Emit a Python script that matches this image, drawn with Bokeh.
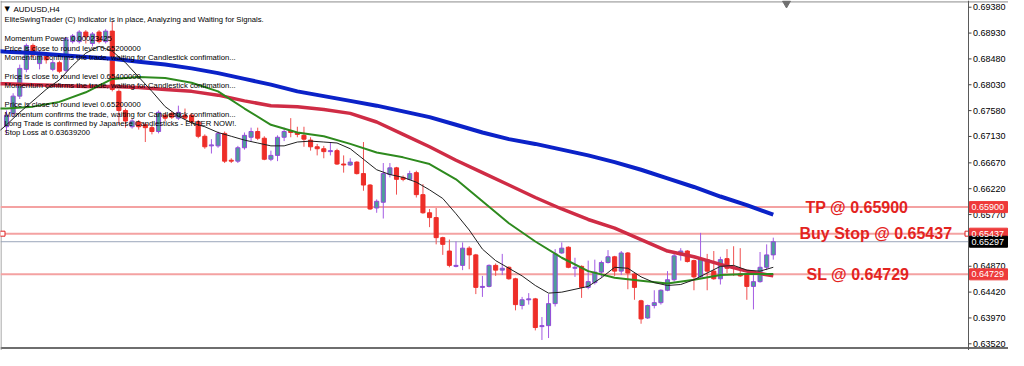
from bokeh.plotting import figure
from bokeh.models import Range1d, Label, ColumnDataSource
from bokeh.core.properties import value
from bokeh.embed import file_html
from bokeh.resources import INLINE

# ---------------- data (AUDUSD, H4) ----------------
opens = [0.67299, 0.67532, 0.67832, 0.68298, 0.68714, 0.68398, 0.68531, 0.68298, 0.68415, 0.68282,
         0.68781, 0.68781, 0.68948, 0.68748, 0.68948, 0.68781, 0.68964, 0.67915, 0.67582, 0.67299,
         0.67382, 0.67333, 0.67283, 0.67216, 0.67499, 0.67532, 0.67449, 0.67499, 0.67499, 0.67382,
         0.67133, 0.66966, 0.66966, 0.67183, 0.66716, 0.66700, 0.66933, 0.67116, 0.67216, 0.67099,
         0.66733, 0.66800, 0.67116, 0.67233, 0.67199, 0.67149, 0.67066, 0.66950, 0.66916, 0.66866,
         0.66883, 0.66650, 0.66633, 0.66683, 0.66483, 0.66284, 0.65884, 0.65984, 0.66467, 0.66583,
         0.66417, 0.66383, 0.66500, 0.66117, 0.65801, 0.65717, 0.65368, 0.65135, 0.64868, 0.64885,
         0.65185, 0.65068, 0.64502, 0.64519, 0.64885, 0.64802, 0.64852, 0.64652, 0.64186, 0.64286,
         0.64302, 0.63819, 0.63836, 0.64219, 0.65101, 0.65201, 0.64835, 0.64868, 0.64502, 0.64585,
         0.64768, 0.64935, 0.65035, 0.64785, 0.65101, 0.64735, 0.64269, 0.63969, 0.64186, 0.64236,
         0.64452, 0.64635, 0.65068, 0.65135, 0.64968, 0.64685, 0.64985, 0.64785, 0.64652, 0.65002,
         0.64852, 0.64735, 0.64718, 0.64519, 0.64602, 0.64852, 0.65068]
highs = [0.67582, 0.67882, 0.68381, 0.68748, 0.68748, 0.68631, 0.68581, 0.68465, 0.68448, 0.68864,
         0.68914, 0.68981, 0.68981, 0.68948, 0.68981, 0.68998, 0.69131, 0.67949, 0.67616, 0.67432,
         0.67416, 0.67366, 0.67316, 0.67582, 0.67532, 0.67566, 0.67666, 0.67616, 0.67532, 0.67416,
         0.67166, 0.67083, 0.67216, 0.67216, 0.66750, 0.66966, 0.67199, 0.67283, 0.67283, 0.67133,
         0.66883, 0.67149, 0.67283, 0.67449, 0.67299, 0.67299, 0.67116, 0.67000, 0.66966, 0.67016,
         0.66916, 0.66800, 0.66750, 0.66700, 0.67033, 0.66300, 0.66034, 0.66667, 0.66667, 0.66600,
         0.66450, 0.66533, 0.66533, 0.66300, 0.65867, 0.65884, 0.65384, 0.65335, 0.65301, 0.65285,
         0.65218, 0.65085, 0.64702, 0.64902, 0.64918, 0.65085, 0.64868, 0.64669, 0.64336, 0.64402,
         0.64319, 0.63986, 0.64385, 0.65168, 0.65285, 0.65218, 0.65018, 0.64885, 0.64968, 0.64985,
         0.64968, 0.65151, 0.65051, 0.65135, 0.65118, 0.64752, 0.64286, 0.64202, 0.64452, 0.64469,
         0.64785, 0.65135, 0.65185, 0.65151, 0.64985, 0.65451, 0.65085, 0.65135, 0.65035, 0.65168,
         0.65218, 0.65185, 0.64735, 0.64718, 0.65118, 0.65251, 0.65368]
lows = [0.67166, 0.67466, 0.67782, 0.68248, 0.68498, 0.68298, 0.68398, 0.68265, 0.68232, 0.68248,
        0.68748, 0.68748, 0.68748, 0.68698, 0.68748, 0.68748, 0.67915, 0.67333, 0.67283, 0.67266,
        0.67249, 0.67033, 0.67166, 0.67183, 0.67399, 0.67432, 0.67416, 0.67416, 0.67349, 0.67099,
        0.66916, 0.66833, 0.66933, 0.66667, 0.66667, 0.66667, 0.66900, 0.67049, 0.67066, 0.66716,
        0.66700, 0.66700, 0.67049, 0.67116, 0.67116, 0.66950, 0.66883, 0.66800, 0.66750, 0.66800,
        0.66633, 0.66500, 0.66617, 0.66467, 0.66184, 0.65851, 0.65801, 0.65701, 0.66417, 0.66117,
        0.66350, 0.66367, 0.66067, 0.65784, 0.65551, 0.65251, 0.65068, 0.64852, 0.64852, 0.64802,
        0.64818, 0.64385, 0.64336, 0.64502, 0.64702, 0.64718, 0.64635, 0.64102, 0.64119, 0.64202,
        0.63753, 0.63586, 0.63620, 0.64169, 0.65085, 0.64835, 0.64685, 0.64319, 0.64469, 0.64552,
        0.64669, 0.64918, 0.64702, 0.64718, 0.64469, 0.64286, 0.63869, 0.63953, 0.64136, 0.64202,
        0.64435, 0.64602, 0.64968, 0.64935, 0.64452, 0.64669, 0.64452, 0.64635, 0.64552, 0.64752,
        0.64702, 0.64685, 0.64286, 0.64119, 0.64585, 0.64802, 0.64985]
closes = [0.67499, 0.67832, 0.68315, 0.68714, 0.68548, 0.68565, 0.68465, 0.68415, 0.68265, 0.68831,
          0.68881, 0.68948, 0.68864, 0.68914, 0.68781, 0.68964, 0.67949, 0.67582, 0.67399, 0.67399,
          0.67299, 0.67283, 0.67216, 0.67549, 0.67449, 0.67466, 0.67549, 0.67449, 0.67382, 0.67133,
          0.66950, 0.66983, 0.67183, 0.66700, 0.66700, 0.66933, 0.67149, 0.67216, 0.67099, 0.66733,
          0.66800, 0.67116, 0.67216, 0.67199, 0.67166, 0.67083, 0.66950, 0.66916, 0.66866, 0.66883,
          0.66650, 0.66633, 0.66683, 0.66483, 0.66284, 0.65867, 0.66001, 0.66483, 0.66583, 0.66383,
          0.66383, 0.66483, 0.66117, 0.65801, 0.65717, 0.65368, 0.65251, 0.64885, 0.64885, 0.65185,
          0.65068, 0.64502, 0.64519, 0.64885, 0.64802, 0.64835, 0.64652, 0.64202, 0.64286, 0.64302,
          0.63803, 0.63836, 0.64219, 0.65085, 0.65185, 0.64852, 0.64852, 0.64502, 0.64602, 0.64768,
          0.64935, 0.65035, 0.64785, 0.65101, 0.64752, 0.64502, 0.63953, 0.64186, 0.64236, 0.64452,
          0.64635, 0.65051, 0.65135, 0.64952, 0.64685, 0.64985, 0.64785, 0.64652, 0.64985, 0.64835,
          0.64835, 0.64702, 0.64519, 0.64602, 0.64852, 0.65068, 0.65297]

# moving averages read at every 4th bar (slow ones) and every 2nd bar (fast one)
ma_idx = [-1] + list(range(0, 117, 4))
ma_blue = [0.68615, 0.68606, 0.68581, 0.68548, 0.68515, 0.68481, 0.68431, 0.68381, 0.68315, 0.68232,
           0.68132, 0.68032, 0.67915, 0.67832, 0.67749, 0.67666, 0.67566, 0.67466, 0.67333, 0.67199,
           0.67083, 0.67000, 0.66900, 0.66800, 0.66683, 0.66550, 0.66400, 0.66250, 0.66084, 0.65934,
           0.65767]
ma_red = [0.68048, 0.68048, 0.68032, 0.68015, 0.67999, 0.67999, 0.67982, 0.67949, 0.67915, 0.67849,
          0.67749, 0.67666, 0.67649, 0.67599, 0.67532, 0.67382, 0.67166, 0.66950, 0.66716, 0.66500,
          0.66284, 0.66067, 0.65867, 0.65684, 0.65534, 0.65335, 0.65135, 0.65035, 0.64902, 0.64785,
          0.64702]
ma_green = [0.67616, 0.67616, 0.67649, 0.67732, 0.67899, 0.68132, 0.68165, 0.68148, 0.68065, 0.67915,
            0.67616, 0.67333, 0.67199, 0.67133, 0.67000, 0.66850, 0.66766, 0.66650, 0.66383, 0.66001,
            0.65618, 0.65301, 0.65018, 0.64785, 0.64669, 0.64619, 0.64569, 0.64635, 0.64718, 0.64735,
            0.64735]
fast_idx = [-1] + list(range(0, 117, 2))
ma_black = [0.67233, 0.67333, 0.67549, 0.67749, 0.67949, 0.68115, 0.68365, 0.68581, 0.68698, 0.68615,
            0.68415, 0.68165, 0.67915, 0.67649, 0.67482, 0.67366, 0.67299, 0.67199, 0.67133, 0.67066,
            0.67016, 0.66966, 0.66966, 0.67033, 0.67049, 0.67033, 0.67016, 0.66916, 0.66733, 0.66550,
            0.66467, 0.66417, 0.66334, 0.66200, 0.66050, 0.65784, 0.65501, 0.65168, 0.64968, 0.64835,
            0.64702, 0.64535, 0.64402, 0.64419, 0.64469, 0.64519, 0.64669, 0.64852, 0.64835, 0.64685,
            0.64585, 0.64535, 0.64552, 0.64635, 0.64752, 0.64868, 0.64885, 0.64802, 0.64785, 0.64852]

price_ticks = [0.69380, 0.68930, 0.68480, 0.68030, 0.67580, 0.67130, 0.66670,
               0.66220, 0.65770, 0.64870, 0.64420, 0.63970, 0.63520]
tick_labels = ["0.69380", "0.68930", "0.68480", "0.68030", "0.67580", "0.67130", "0.66670",
               "0.66220", "0.65770", "0.64870", "0.64420", "0.63970", "0.63520"]
tp_level = 0.65900
buy_stop_level = 0.65437
bid_level = 0.65297
sl_level = 0.64729
box_levels = [tp_level, buy_stop_level, bid_level, sl_level]
box_labels = ["0.65900", "0.65437", "0.65297", "0.64729"]
box_colors = ["#EE3A3A", "#EE3A3A", "#000000", "#EE3A3A"]

symbol_title = "AUDUSD,H4"
info_lines = [
    "EliteSwingTrader (C) Indicator is in place, Analyzing and Waiting for Signals.",
    "",
    "Momentum Power: 0.00023425",
    "Price is close to round level 0.65200000",
    "Momentum confirms the trade, waiting for Candlestick confimation...",
    "",
    "Price is close to round level 0.65400000",
    "Momentum confirms the trade, waiting for Candlestick confimation...",
    "",
    "Price is close to round level 0.65200000",
    "Momentum confirms the trade, waiting for Candlestick confimation...",
    "Long Trade is confirmed by Japanese Candlesticks - ENTER NOW!.",
    "Stop Loss at 0.63639200",
]

# ---------------- layout helpers ----------------
W, H = 1008, 350
PX_PER_BAR = 6.61
X0 = -0.91
def ref_x(px):          # reference pixel column -> bar index
    return X0 + px / PX_PER_BAR
def ref_y(py):          # reference pixel row -> price
    return 0.69497 - 0.0001665 * py
def dx(px):             # pixel distance -> bar units
    return px / PX_PER_BAR

N = len(opens)
idx = list(range(N))
is_up = [c >= o for o, c in zip(opens, closes)]

def subset(up):
    sel = [i for i in idx if is_up[i] == up]
    return ColumnDataSource(dict(
        x=sel,
        top=[max(opens[i], closes[i]) for i in sel],
        bottom=[min(opens[i], closes[i]) for i in sel],
        high=[highs[i] for i in sel],
        low=[lows[i] for i in sel],
    ))

src_up = subset(True)
src_dn = subset(False)

x_end = X0 + W / PX_PER_BAR
y_lo, y_hi = ref_y(366), ref_y(0)
p = figure(width=W, height=H,
           x_range=Range1d(X0, x_end), y_range=Range1d(y_lo, y_hi),
           output_backend="svg", toolbar_location=None,
           x_axis_location=None, y_axis_location=None,
           min_border=0)
p.grid.visible = False
p.background_fill_color = "white"
p.border_fill_color = "white"
p.outline_line_color = None

axis_x = ref_x(968)

# chart border
p.segment(x0=[X0, X0, X0 + dx(0.5)], y0=[ref_y(1.5), ref_y(363.5), y_lo],
          x1=[x_end, x_end, X0 + dx(0.5)], y1=[ref_y(1.5), ref_y(363.5), y_hi],
          line_color=["#8C8C8C", "#6E6E6E", "#8C8C8C"], line_width=[1, 2, 1])

# horizontal level lines (stop at the price scale)
p.segment(x0=[X0] * 3, y0=[tp_level, buy_stop_level, sl_level],
          x1=[axis_x] * 3, y1=[tp_level, buy_stop_level, sl_level],
          line_color="#F4A2A2", line_width=2)
p.segment(x0=[X0], y0=[bid_level], x1=[axis_x], y1=[bid_level],
          line_color="#9AA6BA", line_width=1)

# candles
p.segment(x0="x", y0="low", x1="x", y1="high", source=src_dn, line_color="#F05050", line_width=1)
p.segment(x0="x", y0="low", x1="x", y1="high", source=src_up, line_color="#A45BE3", line_width=1)
p.vbar(x="x", top="top", bottom="bottom", width=0.62, source=src_dn,
       fill_color="#EE2E28", line_color="#EE2E28", line_width=1)
p.vbar(x="x", top="top", bottom="bottom", width=0.62, source=src_up,
       fill_color="#4E9E9A", line_color="#9448DA", line_width=1)

# moving averages
p.line(ma_idx, ma_blue, line_color="#0B22C8", line_width=4)
p.line(ma_idx, ma_red, line_color="#CF2C45", line_width=3.5)
p.line(ma_idx, ma_green, line_color="#2E8A1E", line_width=2)
p.line(fast_idx, ma_black, line_color="#202020", line_width=1)

# order markers
p.scatter([ref_x(2), axis_x - dx(1)], [buy_stop_level, buy_stop_level], marker="square", size=5,
          fill_color="white", line_color="#E02020", line_width=1)
p.scatter([ref_x(786)], [ref_y(3)], marker="inverted_triangle", size=8,
          fill_color="#707070", line_color="#707070")

# price scale (axis line, ticks, labels)
p.segment(x0=[axis_x], y0=[y_lo], x1=[axis_x], y1=[y_hi], line_color="#5A5A5A", line_width=1)
p.segment(x0=[axis_x] * len(price_ticks), y0=price_ticks,
          x1=[axis_x + dx(3)] * len(price_ticks), y1=price_ticks,
          line_color="#404040", line_width=1)
p.text(x=[axis_x + dx(4.5)] * len(price_ticks), y=price_ticks, text=tick_labels,
       text_font=value("Liberation Sans"), text_font_size="9px", text_color="#000000",
       text_baseline="middle", text_align="left")

# price boxes on the scale
p.rect(x=[axis_x + dx(20)] * 4, y=box_levels, width=38, height=11,
       width_units="screen", height_units="screen",
       fill_color=box_colors, line_color=box_colors)
p.text(x=[axis_x + dx(3)] * 4, y=box_levels, text=box_labels,
       text_font=value("Liberation Sans"), text_font_size="9px", text_color="white",
       text_baseline="middle", text_align="left")

# trade level captions
for txt, lvl, px in (("TP @ 0.65900", tp_level, 805),
                     ("Buy Stop @ 0.65437", buy_stop_level, 799),
                     ("SL @ 0.64729", sl_level, 806)):
    p.add_layout(Label(x=ref_x(px), y=lvl, text=txt, text_font="Liberation Sans",
                       text_font_style="bold", text_font_size="16px", text_color="#E3241F",
                       text_baseline="middle", text_align="left"))

# indicator text block
p.add_layout(Label(x=ref_x(4), y=ref_y(9), text="\u25bc", text_font="DejaVu Sans",
                   text_font_size="7px", text_color="#000000", text_baseline="middle"))
p.add_layout(Label(x=ref_x(13), y=ref_y(9), text=symbol_title, text_font="Liberation Sans",
                   text_font_size="8px", text_color="#000000", text_baseline="middle"))
row_y = [20, 30, 40, 50, 60, 70, 79, 89, 99, 109, 119, 129, 138]
for line, ry in zip(info_lines, row_y):
    if line:
        p.add_layout(Label(x=ref_x(4), y=ref_y(ry), text=line, text_font="Liberation Sans",
                           text_font_size="7.7px", text_color="#000000", text_baseline="middle"))

open("out.html", "w").write(file_html(p, INLINE))
